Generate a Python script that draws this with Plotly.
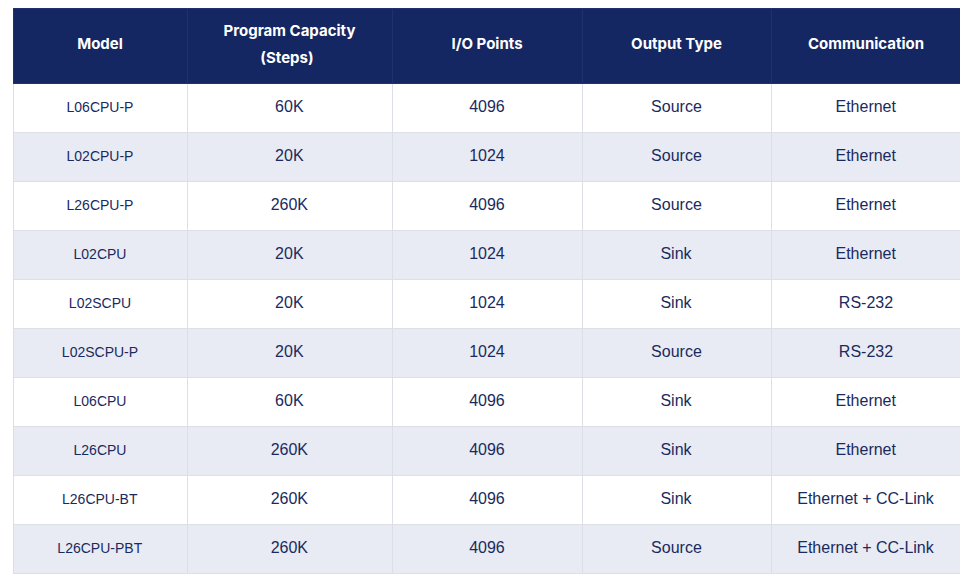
import plotly.graph_objects as go

# table data
headers = ["Model", "Program Capacity<br>(Steps)", "I/O Points", "Output Type", "Communication"]
models = ["L06CPU-P", "L02CPU-P", "L26CPU-P", "L02CPU", "L02SCPU",
          "L02SCPU-P", "L06CPU", "L26CPU", "L26CPU-BT", "L26CPU-PBT"]
capacity = ["60K", "20K", "260K", "20K", "20K", "20K", "60K", "260K", "260K", "260K"]
io_points = ["4096", "1024", "4096", "1024", "1024", "1024", "4096", "4096", "4096", "4096"]
output_type = ["Source", "Source", "Source", "Sink", "Sink", "Source", "Sink", "Sink", "Sink", "Source"]
communication = ["Ethernet", "Ethernet", "Ethernet", "Ethernet", "RS-232", "RS-232",
                 "Ethernet", "Ethernet", "Ethernet + CC-Link", "Ethernet + CC-Link"]

navy = "#152762"
stripe = ["#ffffff" if i % 2 == 0 else "#e8ebf3" for i in range(len(models))]


# plotly tables have no vertical align: a blank first line pushes the text down
def header_text(h):
    parts = h.split("<br>")
    lines = ["<span style='font-size:15px'><b>%s</b></span>" % p for p in parts]
    if len(parts) == 1:
        lines = ["&nbsp;"] + lines
    else:
        # taller spaces on both ends nudge the first line down, keep it centred
        pad = "<span style='font-size:21px'>&nbsp;</span>"
        lines[0] = pad + lines[0] + pad
        # wrapped lines are left aligned, so indent the second one
        lines[1] = "<span style='font-size:15px'><b>%s</b></span>" % ("&nbsp;" * 12) + lines[1]
    return "<br>".join(lines)


def cell_text(values, size):
    return ["&nbsp;<br><span style='font-size:%dpx'>%s</span>" % (size, v) for v in values]


body_sizes = [14, 16, 16, 16, 16]
columns = [models, capacity, io_points, output_type, communication]

fig = go.Figure(go.Table(
    columnwidth=[174, 205, 190, 189, 190],
    header=dict(
        values=[header_text(h) for h in headers],
        fill_color=navy,
        line_color="#1e3170",
        font=dict(family="Inter, sans-serif", size=[14.5, 21, 14.5, 14.5, 14.5], color="white"),
        align="center",
        height=75,
    ),
    cells=dict(
        values=[cell_text(col, s) for col, s in zip(columns, body_sizes)],
        fill_color=[stripe] * 5,
        line_color="#dcdfe6",
        font=dict(family="Liberation Sans, Arial, sans-serif", size=9.5, color="#1a2a5e"),
        align="center",
        height=49,
    ),
))

fig.update_layout(
    width=968, height=577,
    margin=dict(l=5, r=15, t=0, b=0),
    paper_bgcolor="white",
)

fig.write_html("out.html")
